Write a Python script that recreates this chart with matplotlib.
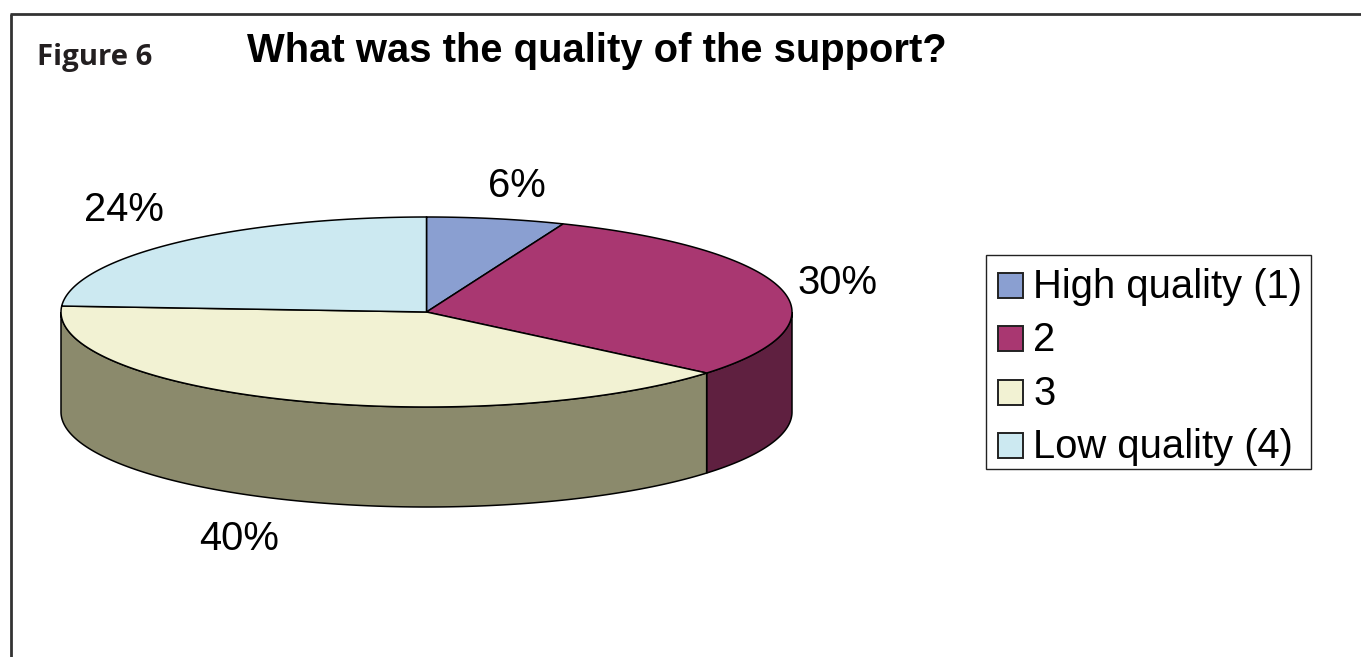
import numpy as np
import matplotlib
matplotlib.use("Agg")
import matplotlib.pyplot as plt
from matplotlib.patches import Polygon, Rectangle

categories = ["High quality (1)", "2", "3", "Low quality (4)"]
values = [6.1, 30.0, 39.9, 24.0]
pct_labels = ["6%", "30%", "40%", "24%"]
top_colors = ["#8a9fd1", "#a93771", "#f2f2d3", "#cce9f1"]
side_colors = ["#45506a", "#5f2040", "#8b8a6c", "#667579"]
label_pos = [(517, 186), (837, 283), (239, 539), (124, 210)]

W, H = 1361, 657
cx, cy, rx, ry, depth = 426.5, 312, 365.5, 95, 100

fig = plt.figure(figsize=(W / 100, H / 100), dpi=100, facecolor="white")
ax = fig.add_axes([0, 0, 1, 1])
ax.set_xlim(0, W)
ax.set_ylim(H, 0)
ax.axis("off")


def pt(theta, dy=0):
    return cx + rx * np.sin(theta), cy - ry * np.cos(theta) + dy


edges = np.cumsum([0] + values) / sum(values) * 2 * np.pi
for i in range(len(values)):
    a0, a1 = edges[i], edges[i + 1]
    # visible outer wall: the front half only (pi/2 .. 3pi/2)
    s0, s1 = max(a0, np.pi / 2), min(a1, 3 * np.pi / 2)
    if s1 > s0:
        t = np.linspace(s0, s1, 200)
        x, y = pt(t)
        xb, yb = pt(t[::-1], depth)
        ax.add_patch(Polygon(np.c_[np.r_[x, xb], np.r_[y, yb]], closed=True,
                             fc=side_colors[i], ec="black", lw=1.1, zorder=2))
for i in range(len(values)):
    t = np.linspace(edges[i], edges[i + 1], 200)
    x, y = pt(t)
    ax.add_patch(Polygon(np.c_[np.r_[cx, x], np.r_[cy, y]], closed=True,
                         fc=top_colors[i], ec="black", lw=1.1, zorder=3))
    ax.text(*label_pos[i], pct_labels[i], fontsize=28.8, family="Liberation Sans",
            ha="center", va="center", color="black", zorder=4)

# outer frame of the page figure
ax.plot([11.5, 11.5], [H, 14], color="#333333", lw=2.0, solid_capstyle="butt")
ax.plot([10.5, W], [14, 14], color="#333333", lw=2.0, solid_capstyle="butt")

ax.text(37, 58, "Figure 6", fontsize=21.2, fontweight="bold", family="Open Sans",
        color="#231f20", ha="left", va="center")
ax.text(247, 51, "What was the quality of the support?", fontsize=28.8,
        fontweight="bold", family="Liberation Sans", ha="left", va="center")

# legend
ax.add_patch(Rectangle((986, 255), 325, 214, fc="white", ec="#222222", lw=1.0))
legend_y = [285, 338, 392, 445]
for name, col, y in zip(categories, top_colors, legend_y):
    ax.add_patch(Rectangle((998, y - 12.5), 25, 25, fc=col, ec="#222222", lw=1.4))
    ax.text(1033, y + 2, name, fontsize=28.8, family="Liberation Sans", ha="left", va="center")

fig.savefig("out.png", dpi=100, facecolor="white")
